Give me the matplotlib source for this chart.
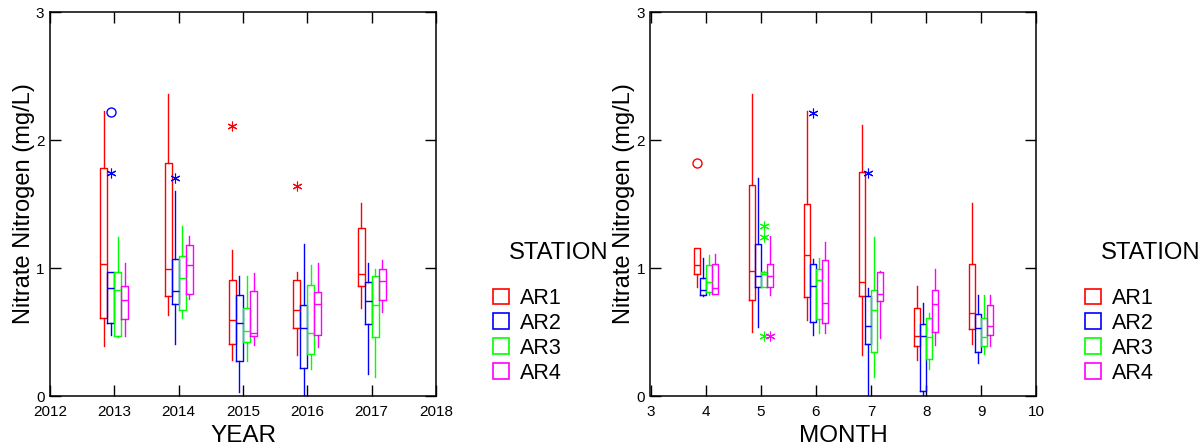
import matplotlib
matplotlib.use("Agg")
import matplotlib.pyplot as plt
from matplotlib.patches import Patch

plt.rcParams['font.family'] = ['Liberation Sans', 'DejaVu Sans']

STATIONS = ["AR1", "AR2", "AR3", "AR4"]
COLORS = ["#FF0000", "#0000FF", "#00FF00", "#FF00FF"]

# ---- Nitrate nitrogen by year (rows: AR1..AR4, columns: 2013..2017) ----
YEARS = [2013, 2014, 2015, 2016, 2017]
year_low = [[0.39, 0.63, 0.28, 0.32, 0.69],
            [0.48, 0.41, 0.03, 0.00, 0.17],
            [0.46, 0.61, 0.27, 0.21, 0.15],
            [0.47, 0.76, 0.40, 0.38, 0.66]]
year_q1 = [[0.61, 0.78, 0.41, 0.53, 0.86],
           [0.57, 0.72, 0.27, 0.22, 0.56],
           [0.47, 0.67, 0.42, 0.33, 0.46],
           [0.60, 0.80, 0.47, 0.48, 0.75]]
year_med = [[1.03, 0.99, 0.59, 0.67, 0.95],
            [0.84, 0.82, 0.57, 0.53, 0.74],
            [0.83, 0.92, 0.51, 0.49, 0.71],
            [0.75, 1.02, 0.49, 0.72, 0.90]]
year_q3 = [[1.78, 1.82, 0.91, 0.91, 1.31],
           [0.97, 1.07, 0.79, 0.71, 0.89],
           [0.97, 1.09, 0.69, 0.87, 0.94],
           [0.86, 1.18, 0.82, 0.81, 0.99]]
year_high = [[2.23, 2.36, 1.14, 0.97, 1.51],
             [0.97, 1.60, 0.94, 1.19, 1.04],
             [1.24, 1.33, 0.94, 1.02, 0.99],
             [1.04, 1.25, 0.96, 1.04, 1.06]]
# outside values: (station index, year, value, kind) -- '*' near, 'o' far
year_outliers = [(1, 2013, 2.22, 'o'), (1, 2013, 1.74, '*'), (1, 2014, 1.70, '*'),
                 (0, 2015, 2.11, '*'), (0, 2016, 1.64, '*')]

# ---- Nitrate nitrogen by month (rows: AR1..AR4, columns: months 4..9) ----
MONTHS = [4, 5, 6, 7, 8, 9]
month_low = [[0.85, 0.50, 0.59, 0.32, 0.28, 0.41],
             [0.78, 0.54, 0.48, 0.00, 0.00, 0.26],
             [0.79, 0.85, 0.49, 0.15, 0.21, 0.33],
             [0.80, 0.79, 0.49, 0.45, 0.40, 0.39]]
month_q1 = [[0.95, 0.75, 0.77, 0.78, 0.39, 0.52],
            [0.79, 0.85, 0.58, 0.41, 0.04, 0.34],
            [0.81, 0.85, 0.60, 0.34, 0.29, 0.39],
            [0.80, 0.85, 0.57, 0.74, 0.50, 0.48]]
month_med = [[1.02, 0.98, 1.10, 0.89, 0.47, 0.65],
             [0.83, 0.94, 0.86, 0.55, 0.47, 0.53],
             [0.89, 0.95, 0.91, 0.67, 0.46, 0.46],
             [0.84, 0.94, 0.73, 0.80, 0.72, 0.55]]
month_q3 = [[1.16, 1.65, 1.50, 1.75, 0.69, 1.03],
            [0.92, 1.19, 1.03, 0.78, 0.56, 0.64],
            [1.02, 0.97, 0.99, 0.83, 0.61, 0.61],
            [1.03, 1.03, 1.06, 0.97, 0.83, 0.71]]
month_high = [[1.16, 2.36, 2.23, 2.12, 0.86, 1.51],
              [1.08, 1.70, 1.07, 0.84, 0.73, 0.79],
              [1.10, 0.98, 1.08, 1.24, 0.65, 0.79],
              [1.11, 1.25, 1.20, 0.98, 0.99, 0.79]]
month_outliers = [(0, 4, 1.82, 'o'), (2, 5, 1.33, '*'), (2, 5, 1.24, '*'),
                  (2, 5, 0.47, '*'), (3, 5, 0.47, '*'), (1, 6, 2.21, '*'),
                  (1, 7, 1.74, '*')]

BOX_W = 0.11
OFFSETS = [(i - 1.5) * BOX_W for i in range(4)]
ASTERISK = (6, 2, 0)


def draw_panel(ax, groups, low, q1, med, q3, high, outliers):
    for s, color in enumerate(COLORS):
        stats = [dict(med=med[s][g], q1=q1[s][g], q3=q3[s][g],
                      whislo=low[s][g], whishi=high[s][g], fliers=[])
                 for g in range(len(groups))]
        pos = [x + OFFSETS[s] for x in groups]
        line = dict(color=color, linewidth=1.0)
        ax.bxp(stats, positions=pos, widths=BOX_W, showcaps=False,
               showfliers=False, boxprops=line, whiskerprops=line,
               medianprops=line, manage_ticks=False)
    for s, grp, val, kind in outliers:
        x = grp + OFFSETS[s]
        if kind == 'o':
            ax.plot(x, val, marker='o', ms=6.5, mfc='none', mec=COLORS[s],
                    mew=1.0, ls='none')
        else:
            ax.plot(x, val, marker=ASTERISK, ms=7, mec=COLORS[s],
                    mew=0.8, ls='none')


fig = plt.figure(figsize=(12.04, 4.48), dpi=100)
W, H = 1204.0, 448.0
ax1 = fig.add_axes([50 / W, 1 - 396 / H, 386 / W, 384 / H])
ax2 = fig.add_axes([650.5 / W, 1 - 396 / H, 386 / W, 384 / H])

draw_panel(ax1, YEARS, year_low, year_q1, year_med, year_q3, year_high, year_outliers)
draw_panel(ax2, MONTHS, month_low, month_q1, month_med, month_q3, month_high, month_outliers)

ax1.set_xlim(2012, 2018)
ax1.set_xticks(range(2012, 2019))
ax1.set_xlabel("YEAR", fontsize=17.5, labelpad=4.5)
ax2.set_xlim(3, 10)
ax2.set_xticks(range(3, 11))
ax2.set_xlabel("MONTH", fontsize=17.5, labelpad=4.5)

for ax in (ax1, ax2):
    ax.set_ylim(0, 3)
    ax.set_yticks([0, 1, 2, 3])
    ax.set_ylabel("Nitrate Nitrogen (mg/L)", fontsize=17, labelpad=1)
    ax.tick_params(direction='in', top=True, right=True, length=8, width=1,
                   labelsize=11)
    ax.tick_params(axis='x', pad=6.5)
    ax.tick_params(axis='y', pad=4)
    for sp in ax.spines.values():
        sp.set_linewidth(1.1)

handles = [Patch(facecolor='none', edgecolor=c, linewidth=1.2) for c in COLORS]
for x_square, x_title in ((493, 509), (1085, 1101)):
    fig.text(x_title / W, 1 - 253 / H, "STATION", fontsize=17.2, va='center', ha='left')
    fig.legend(handles, STATIONS, loc='upper left',
               bbox_to_anchor=(x_square / W, 1 - 288 / H), frameon=False,
               fontsize=15.5, handlelength=0.75, handleheight=0.75,
               handletextpad=0.5, labelspacing=0.18, borderpad=0, borderaxespad=0)

fig.savefig("out.png", dpi=100)
